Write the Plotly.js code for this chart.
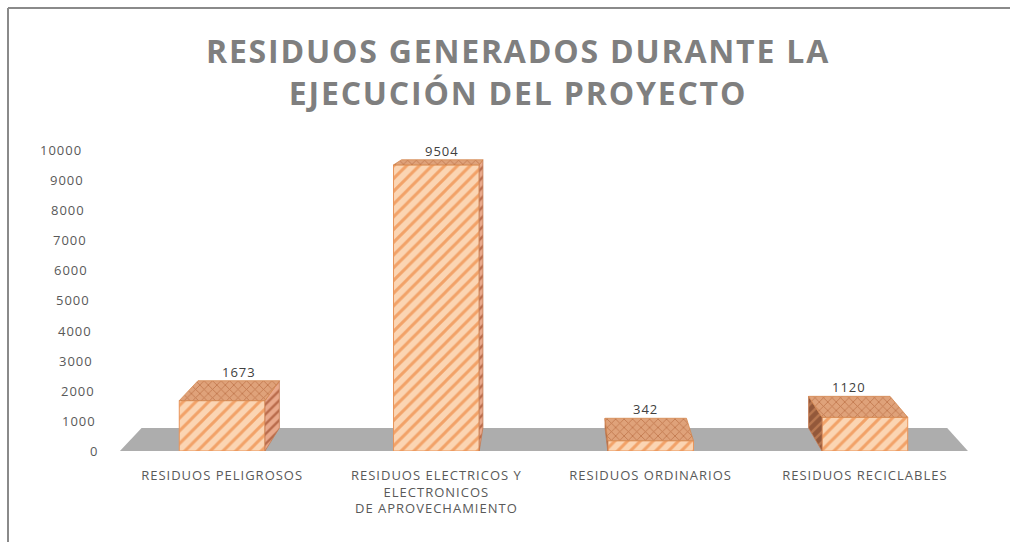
<!DOCTYPE html>
<html><head><meta charset="utf-8">
<script src="https://cdn.plot.ly/plotly-3.0.1.min.js"></script>
<style>
html,body{margin:0;padding:0;background:#fff;}
#chart{width:1010px;height:542px;}
.gtitle{letter-spacing:1.8px;}
.annotation-text{letter-spacing:1px;}
.xtick text{letter-spacing:1px;}
</style></head><body><div id="chart"></div>
<script>
// ---- data ----
const categories = ["RESIDUOS PELIGROSOS", "RESIDUOS ELECTRICOS Y<br>ELECTRONICOS<br>DE APROVECHAMIENTO", "RESIDUOS ORDINARIOS", "RESIDUOS RECICLABLES"];
const values = [1673, 9504, 342, 1120];
const yTickValues = [0, 1000, 2000, 3000, 4000, 5000, 6000, 7000, 8000, 9000, 10000];
const titleText = "RESIDUOS GENERADOS DURANTE LA<br>EJECUCIÓN DEL PROYECTO";

// ---- layout geometry (style) ----
const W = 1010, H = 542, M = {l: 115, r: 38, t: 139, b: 91};
const XR = [-0.5, 3.5], YR = [0, 10365];
const pw = W - M.l - M.r, ph = H - M.t - M.b;
const barW = 0.4;
function toPx(x, y) { return [M.l + (x - XR[0]) / (XR[1] - XR[0]) * pw, M.t + ph - (y - YR[0]) / (YR[1] - YR[0]) * ph]; }
function toData(X, Y) { return [XR[0] + (X - M.l) / pw * (XR[1] - XR[0]), YR[0] + (M.t + ph - Y) / ph * (YR[1] - YR[0])]; }
const VP = {x: 553, y: 83, kx: 0.05, ky: 0.0627};
function back(x, y) { const [X, Y] = toPx(x, y); return toData(X - VP.kx * (X - VP.x), Y - VP.ky * (Y - VP.y)); }

const xIdx = categories.map((c, i) => i);
const traces = [];

// side faces
values.forEach((v, i) => {
  const x0 = i - barW / 2, x1 = i + barW / 2;
  const rightX = toPx(x1, 0)[0], leftX = toPx(x0, 0)[0];
  let xs, ys, pat;
  if (rightX < VP.x) {
    const bt = back(x1, v), bb = back(x1, 0);
    xs = [x1, bt[0], bb[0], x1, x1]; ys = [v, bt[1], bb[1], 0, v];
    pat = {shape: '/', bgcolor: '#E9A98B', fgcolor: '#B96B4B', size: 7, solidity: 0.35};
  } else if (leftX > VP.x) {
    const bt = back(x0, v), bb = back(x0, 0);
    xs = [x0, bt[0], bb[0], x0, x0]; ys = [v, bt[1], bb[1], 0, v];
    pat = {shape: '/', bgcolor: '#93583A', fgcolor: '#B87750', size: 7, solidity: 0.35};
  } else return;
  traces.push({type: 'scatter', x: xs, y: ys, mode: 'lines', fill: 'toself',
    fillcolor: pat.bgcolor, fillpattern: Object.assign({fillmode: 'replace'}, pat),
    line: {color: '#C47A52', width: 0.8}, hoverinfo: 'skip', showlegend: false});
});

// top faces
values.forEach((v, i) => {
  const x0 = i - barW / 2, x1 = i + barW / 2;
  const b0 = back(x0, v), b1 = back(x1, v);
  traces.push({type: 'scatter', x: [x0, x1, b1[0], b0[0], x0], y: [v, v, b1[1], b0[1], v],
    mode: 'lines', fill: 'toself', fillcolor: '#DDA077',
    fillpattern: {shape: 'x', bgcolor: '#DFA27A', fgcolor: '#BF764B', size: 6, solidity: 0.25, fillmode: 'replace'},
    line: {color: '#D4884F', width: 0.8}, hoverinfo: 'skip', showlegend: false});
});

// front faces (bars)
traces.push({type: 'bar', x: xIdx, y: values, width: barW,
  marker: {color: '#FBD5B3', line: {color: '#E8955A', width: 1},
    pattern: {shape: '/', bgcolor: '#FBD5B3', fgcolor: '#F2A268', size: 9, solidity: 0.33, fillmode: 'replace'}},
  hoverinfo: 'skip', showlegend: false});

// annotations: value labels and y tick labels
const annotations = [];
values.forEach((v, i) => {
  const b = back(i, v);
  annotations.push({x: b[0], y: b[1], xref: 'x', yref: 'y', text: String(v), showarrow: false,
    yanchor: 'middle', yshift: 9, font: {family: 'Open Sans', size: 13, color: '#404040'}});
});
yTickValues.forEach(v => {
  annotations.push({x: 0, xref: 'paper', y: v, yref: 'y', text: String(v), showarrow: false,
    xanchor: 'right', yanchor: 'middle', xshift: -(15 + 0.0016 * v),
    font: {family: 'Open Sans', size: 13, color: '#595959'}});
});

// floor
const fL = -0.477, fR = 3.481;
const fbL = back(fL, 0), fbR = back(fR, 0);
const shapes = [
  {type: 'path', xref: 'x', yref: 'y', layer: 'below',
   path: `M ${fL},0 L ${fR},0 L ${fbR[0]},${fbR[1]} L ${fbL[0]},${fbL[1]} Z`,
   fillcolor: '#ADADAD', line: {width: 0}},
  {type: 'line', xref: 'paper', yref: 'paper', x0: (8 - M.l) / pw, x1: (1010 - M.l) / pw,
   y0: (M.t + ph - 8) / ph, y1: (M.t + ph - 8) / ph, line: {color: '#8A8A8A', width: 2}},
  {type: 'line', xref: 'paper', yref: 'paper', x0: (8 - M.l) / pw, x1: (8 - M.l) / pw,
   y0: (M.t + ph - 8) / ph, y1: (M.t + ph - 542) / ph, line: {color: '#8A8A8A', width: 2}}
];

const layout = {
  width: W, height: H, margin: M,
  paper_bgcolor: '#FFFFFF', plot_bgcolor: 'rgba(0,0,0,0)',
  title: {text: titleText, x: 518 / W, xref: 'container', xanchor: 'center',
    y: 1 - 63 / H, yref: 'container', yanchor: 'middle',
    font: {family: 'Open Sans', size: 32, weight: 700, color: '#7F7F7F'}},
  xaxis: {range: XR, tickvals: xIdx, ticktext: categories, showgrid: false, zeroline: false,
    showline: false, ticks: 'outside', ticklen: 12, tickcolor: 'rgba(0,0,0,0)',
    tickfont: {family: 'Open Sans', size: 13, color: '#595959'}, fixedrange: true},
  yaxis: {range: YR, showgrid: false, zeroline: false, showline: false, showticklabels: false, fixedrange: true},
  annotations: annotations, shapes: shapes, showlegend: false, hovermode: false
};
Plotly.newPlot('chart', traces, layout, {displayModeBar: false, staticPlot: true});
</script></body></html>
